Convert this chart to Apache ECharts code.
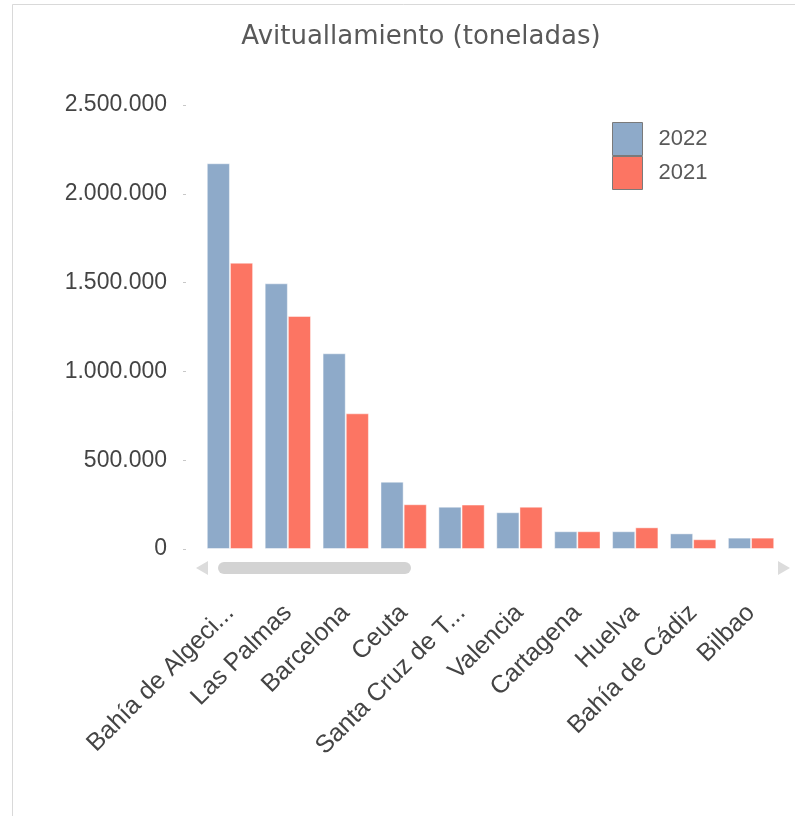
<!DOCTYPE html>
<html>
<head>
<meta charset="utf-8">
<script src="https://cdn.jsdelivr.net/npm/echarts@6/dist/echarts.min.js"></script>
<style>html,body{margin:0;padding:0;background:#fff}#c{width:795px;height:816px}</style>
</head>
<body>
<div id="c"></div>
<script>
var categories = ['Bahía de Algeciras','Las Palmas','Barcelona','Ceuta','Santa Cruz de Tenerife','Valencia','Cartagena','Huelva','Bahía de Cádiz','Bilbao'];
var values2022 = [2172000,1496000,1102000,379000,238000,207000,100000,100000,88000,64000];
var values2021 = [1612000,1312000,764000,252000,250000,238000,100000,122000,55000,64000];
var seriesNames = ['2022','2021'];
var yTicks = [0,500000,1000000,1500000,2000000,2500000];

function fmt(v){return String(v).replace(/\B(?=(\d{3})+(?!\d))/g,'.');}

var chart = echarts.init(document.getElementById('c'));
chart.setOption({
  backgroundColor:'#fff',
  animation:false,
  title:{text:'Avituallamiento (toneladas)',left:416,textAlign:'center',top:19,
    textStyle:{fontFamily:'DejaVu Sans',fontSize:26,fontWeight:'normal',color:'#595959'}},
  legend:{orient:'vertical',left:607,top:117,itemWidth:30,itemHeight:33,itemGap:0,
    icon:'rect',
    data:seriesNames,
    itemStyle:{borderColor:'#7a7a7a',borderWidth:1},
    textStyle:{fontFamily:'Liberation Sans',fontSize:22,color:'#595959',padding:[0,0,0,11]}},
  grid:{left:201,right:15,top:105,bottom:267,containLabel:false},
  xAxis:{type:'category',data:categories,
    axisLine:{show:false},axisTick:{show:false},
    axisLabel:{rotate:45,interval:0,margin:60,fontFamily:'Liberation Sans',fontSize:25,color:'#444444',
      formatter:function(s){return s.length>15? s.slice(0,15)+'...' : s;}}},
  yAxis:{type:'value',min:yTicks[0],max:yTicks[yTicks.length-1],interval:500000,offset:15,
    axisLine:{show:false},splitLine:{show:false},
    axisTick:{show:true,length:3,lineStyle:{color:'#c8c8c8'}},
    axisLabel:{margin:19,fontFamily:'Liberation Sans',fontSize:23,color:'#444444',formatter:fmt}},
  series:[
    {name:seriesNames[0],type:'bar',data:values2022,barGap:'0%',barCategoryGap:'20%',
      itemStyle:{color:'#8eaac9',borderColor:'rgba(255,255,255,0.45)',borderWidth:1}},
    {name:seriesNames[1],type:'bar',data:values2021,barGap:'0%',barCategoryGap:'20%',
      itemStyle:{color:'#fc7563',borderColor:'rgba(255,255,255,0.45)',borderWidth:1}}
  ],
  graphic:[
    {type:'line',shape:{x1:12.5,y1:4.5,x2:795,y2:4.5},style:{stroke:'#d9d9d9',lineWidth:1}},
    {type:'line',shape:{x1:12.5,y1:4.5,x2:12.5,y2:816},style:{stroke:'#d9d9d9',lineWidth:1}},
    {type:'polygon',shape:{points:[[196,568],[208,561],[208,575]]},style:{fill:'#dcdcdc'}},
    {type:'rect',shape:{x:218,y:562,width:193,height:12,r:6},style:{fill:'#d3d3d3'}},
    {type:'polygon',shape:{points:[[790,568],[778,561],[778,575]]},style:{fill:'#dcdcdc'}}
  ]
});
</script>
</body>
</html>
